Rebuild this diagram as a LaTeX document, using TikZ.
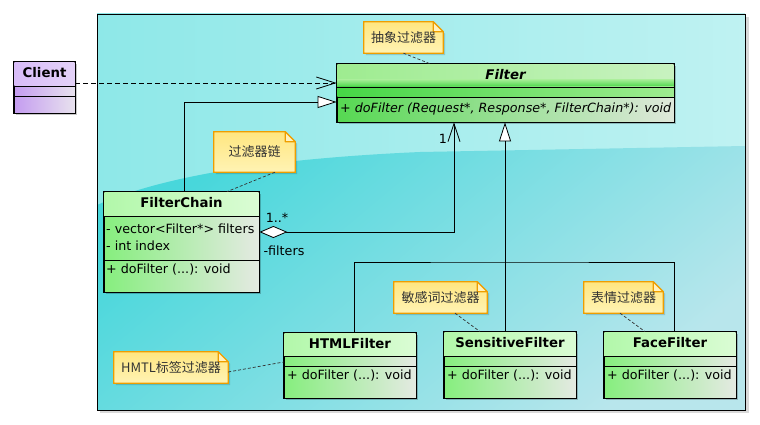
\documentclass[tikz,border=0pt]{standalone}
\usepackage{fontspec}
\setmainfont{DejaVu Sans}
\newfontfamily\cjk{Noto Sans CJK SC}
\usetikzlibrary{arrows.meta,shadows,calc,fit}
\definecolor{noteborder}{HTML}{EE9E00}
\definecolor{noteA}{HTML}{FFE680}
\definecolor{noteB}{HTML}{FFD948}
\definecolor{noteC}{HTML}{FFF3B4}
\definecolor{bgA}{HTML}{8EE8E8}
\definecolor{bgB}{HTML}{BFF2F2}
\definecolor{bgC}{HTML}{48D7DB}
\definecolor{bgD}{HTML}{B8E6EC}
\definecolor{gHeadA}{HTML}{B2F8AA}
\definecolor{gHeadB}{HTML}{DAFCD4}
\definecolor{gBodyA}{HTML}{86EE7E}
\definecolor{gBodyB}{HTML}{E4EAE2}
\definecolor{fHeadA}{HTML}{9EEC90}
\definecolor{fHeadB}{HTML}{C8F2C0}
\definecolor{fBand}{HTML}{46D646}
\definecolor{fBodyA}{HTML}{56D852}
\definecolor{fBodyB}{HTML}{DFE8DB}
\definecolor{pHeadA}{HTML}{D8BCF8}
\definecolor{pHeadB}{HTML}{E4D2F8}
\definecolor{pBodyA}{HTML}{C49CF0}
\definecolor{pBodyB}{HTML}{E8E2EE}
\newcommand\regf{\fontsize{12.7}{14}\selectfont}
\newcommand\boldf{\fontsize{13.3}{15}\selectfont\bfseries}
\newcommand\cjkf{\cjk\fontsize{13}{15}\selectfont}
\tikzset{
  cls/.style={draw=black, line width=0.8pt, inner sep=0pt,
    drop shadow={shadow xshift=2pt, shadow yshift=-2pt, opacity=0.22, fill=black}},
  greenbody/.style={left color=gBodyA, right color=gBodyB},
  filterbody/.style={left color=fBodyA, right color=fBodyB},
  purplebody/.style={left color=pBodyA, right color=pBodyB},
  greenhead/.style={left color=gHeadA, right color=gHeadB},
  divider/.style={draw=black, line width=0.8pt},
  conn/.style={draw=black, line width=0.8pt},
  gen/.style={conn, -{Triangle[length=19pt,width=12pt,fill=white]}},
  dep/.style={conn, dashed, dash pattern=on 5pt off 3pt, -{Straight Barb[length=19pt,width=12pt]}},
  agg/.style={conn, {Diamond[length=28pt,width=12pt,fill=white]}-{Straight Barb[length=18pt,width=12pt]}},
  notelink/.style={draw=black!80, line width=0.7pt, dash pattern=on 3pt off 2pt},
  lbl/.style={font=\regf, inner sep=0pt},
  mtext/.style={font=\regf, inner sep=0pt, anchor=west},
  ctitle/.style={font=\boldf, inner sep=0pt},
}
\newcommand\umlnote[6]{%
  \node[fit={(#2,#3) (#4,#5)}, inner sep=0pt] (#1) {};
  \fill[black, opacity=0.15] ([shift={(2pt,-2pt)}]#1.north west) -- ([shift={(-8pt,-2pt)}]#1.north east) -- ([shift={(2pt,-12pt)}]#1.north east) -- ([shift={(2pt,-2pt)}]#1.south east) -- ([shift={(2pt,-2pt)}]#1.south west) -- cycle;
  \shade[top color=noteA, middle color=noteB, bottom color=noteC, draw=noteborder, line width=1.2pt]
    (#1.north west) -- ([xshift=-10pt]#1.north east) -- ([yshift=-10pt]#1.north east) -- (#1.south east) -- (#1.south west) -- cycle;
  \filldraw[fill=noteA!50!white, draw=noteborder, line width=1.2pt, line join=round]
    ([xshift=-10pt]#1.north east) -- ([xshift=-10pt,yshift=-10pt]#1.north east) -- ([yshift=-10pt]#1.north east) -- cycle;
  \node[font=\cjkf, inner sep=0pt, text=black!80] (#1-t) at (#1.center) {#6};
}
\begin{document}
\begin{tikzpicture}[x=1pt,y=-1pt]
\useasboundingbox (0,0) rectangle (760,425);
% background panel
\fill[black, opacity=0.15] (100,17) rectangle (749,413);
\shade[left color=bgA, right color=bgB] (97,14) rectangle (745,410);
\begin{scope}
\clip (97,14) rectangle (745,410);
\shade[top color=bgC, bottom color=bgD, shading angle=40]
  (97,205) .. controls (150,182) and (240,160) .. (420,152) -- (745,146) -- (745,410) -- (97,410) -- cycle;
\end{scope}
\node[draw=black, line width=0.8pt, fit={(97,14) (745,410)}, inner sep=0pt] (panel) {};

% ---------- Client ----------
\node[cls, purplebody, minimum width=61pt, minimum height=51pt] (client) at (44.5,87.5) {};
\shade[left color=pHeadA, right color=pHeadB] (14.4,62.4) rectangle (74.6,86);
\draw[divider] (14,86) -- (75,86);
\draw[divider] (14,96) -- (75,96);
\draw[line width=0.8pt] (client.north west) rectangle (client.south east);
\node[ctitle] (client-t) at (44.5,73) {Client};

% ---------- Filter ----------
\node[cls, filterbody, minimum width=337pt, minimum height=58pt] (filter) at (505.5,93) {};
\shade[left color=fHeadA, right color=fHeadB] (337.4,64.4) rectangle (673.6,87);
\shade[top color=fHeadA, bottom color=fBand] (337.4,80) rectangle (673.6,87);
\shade[left color=fBand, right color=fHeadA] (337.4,87) rectangle (673.6,97);
\draw[divider] (337,87) -- (674,87);
\draw[divider] (337,97) -- (674,97);
\draw[line width=0.8pt] (filter.north west) rectangle (filter.south east);
\node[font=\boldf\itshape, inner sep=0pt] (filter-t) at (505.5,75) {Filter};
\node[mtext, font=\regf\itshape] (filter-m) at (340,109) {+ doFilter (Request*, Response*, FilterChain*): void};

% ---------- FilterChain ----------
\node[cls, greenbody, minimum width=155pt, minimum height=100pt] (fchain) at (181.5,242) {};
\shade[greenhead] (104.4,192.4) rectangle (258.6,216);
\draw[divider] (104,216) -- (259,216);
\draw[divider] (104,260) -- (259,260);
\draw[line width=0.8pt] (fchain.north west) rectangle (fchain.south east);
\node[ctitle] (fchain-t) at (181.5,203) {FilterChain};
\node[mtext] (fchain-a1) at (106,229) {- vector<Filter*> filters};
\node[mtext] (fchain-a2) at (106,246) {- int index};
\node[mtext] (fchain-m) at (106,270) {+ doFilter (...): void};

% ---------- HTMLFilter ----------
\node[cls, greenbody, minimum width=132pt, minimum height=65pt] (html) at (350,365.5) {};
\shade[greenhead] (284.4,333.4) rectangle (415.6,356);
\draw[divider] (284,356) -- (416,356);
\draw[divider] (284,366) -- (416,366);
\draw[line width=0.8pt] (html.north west) rectangle (html.south east);
\node[ctitle] (html-t) at (350,344) {HTMLFilter};
\node[mtext] (html-m) at (287,376) {+ doFilter (...): void};

% ---------- SensitiveFilter ----------
\node[cls, greenbody, minimum width=132pt, minimum height=66pt] (sens) at (510,365) {};
\shade[greenhead] (444.4,332.4) rectangle (575.6,356);
\draw[divider] (444,356) -- (576,356);
\draw[divider] (444,366) -- (576,366);
\draw[line width=0.8pt] (sens.north west) rectangle (sens.south east);
\node[ctitle] (sens-t) at (510,343) {SensitiveFilter};
\node[mtext] (sens-m) at (447,376) {+ doFilter (...): void};

% ---------- FaceFilter ----------
\node[cls, greenbody, minimum width=132pt, minimum height=66pt] (face) at (670,365) {};
\shade[greenhead] (604.4,332.4) rectangle (735.6,356);
\draw[divider] (604,356) -- (736,356);
\draw[divider] (604,366) -- (736,366);
\draw[line width=0.8pt] (face.north west) rectangle (face.south east);
\node[ctitle] (face-t) at (670,343) {FaceFilter};
\node[mtext] (face-m) at (607,376) {+ doFilter (...): void};

% ---------- notes ----------
\umlnote{n1}{364}{22}{443}{53}{抽象过滤器}
\umlnote{n2}{214}{132}{295}{172}{过滤器链}
\umlnote{n3}{114}{352}{228}{383}{HMTL标签过滤器}
\umlnote{n4}{394}{282}{487}{313}{敏感词过滤器}
\umlnote{n5}{584}{282}{663}{313}{表情过滤器}

\draw[notelink] (n1.south) -- ([xshift=93pt]filter.north west);
\draw[notelink] ([xshift=20.5pt]n2.south) -- ([xshift=45.5pt]fchain.north);
\draw[notelink] ([yshift=-4.5pt]n3.east) -- ([yshift=3.5pt]html.west);
\draw[notelink] ([xshift=14.5pt]n4.south) -- ([xshift=-30pt]sens.north);
\draw[notelink] ([xshift=-3.5pt]n5.south) -- ([xshift=-25pt]face.north);

% ---------- connectors ----------
\draw[dep] ([yshift=4.5pt]client.east) -- ([yshift=4.5pt]client.east -| filter.west);
\draw[gen] ([xshift=2.5pt]fchain.north) |- ([yshift=-9pt]filter.west);
\draw[agg] ([yshift=10pt]fchain.east) -| ([xshift=-51.5pt]filter.south);
\node[lbl] (m-one) at (443,139) {1};
\node[lbl] (m-many) at (277,218) {1..*};
\node[lbl] (m-role) at (284,251) {-filters};

\coordinate (hub) at (505,262);
\draw[gen] (sens.north -| hub) -- (filter.south -| hub);
\draw[conn] ([xshift=4pt]html.north) |- (hub) -| ([xshift=4pt]face.north);
\end{tikzpicture}
\end{document}
